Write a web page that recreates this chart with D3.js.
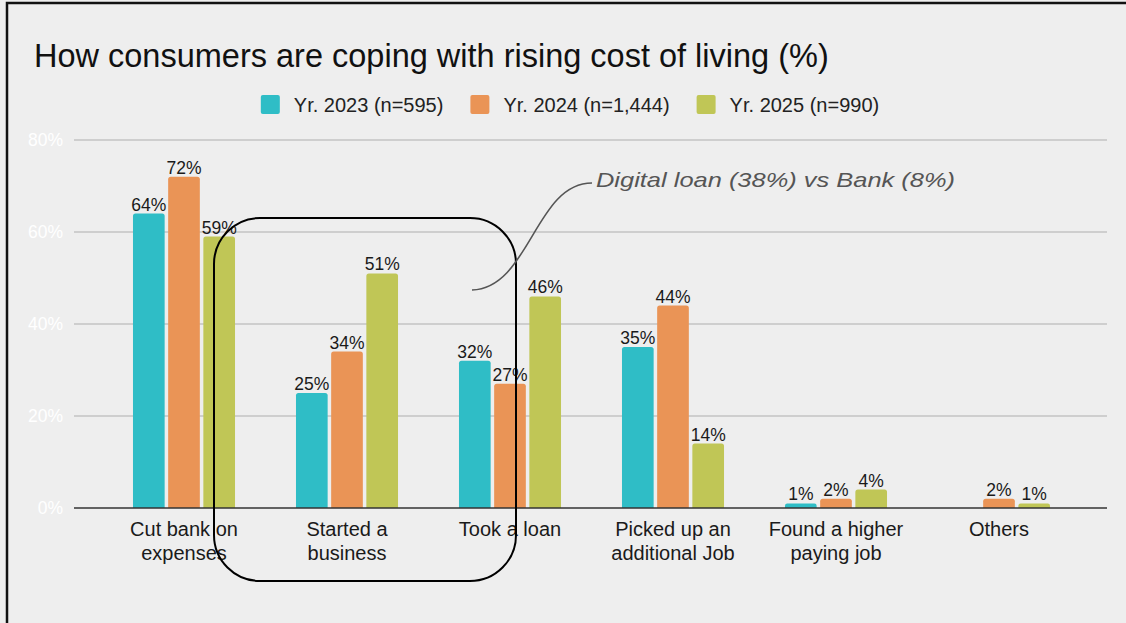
<!DOCTYPE html>
<html>
<head>
<meta charset="utf-8">
<script src="https://cdn.jsdelivr.net/npm/d3@7"></script>
<style>
  html, body { margin: 0; padding: 0; background: #eeeeee; }
  svg { display: block; }
  text { font-family: "Liberation Sans", Arial, sans-serif; }
</style>
</head>
<body>
<svg id="chart" width="1126" height="623"></svg>
<script>
// Survey responses: how consumers cope with the rising cost of living
const categories = [
  ["Cut bank on", "expenses"],
  ["Started a", "business"],
  ["Took a loan"],
  ["Picked up an", "additional Job"],
  ["Found a higher", "paying job"],
  ["Others"]
];
const seriesNames = ["Yr. 2023 (n=595)", "Yr. 2024 (n=1,444)", "Yr. 2025 (n=990)"];
const values2023 = [64, 25, 32, 35, 1, 0];
const values2024 = [72, 34, 27, 44, 2, 2];
const values2025 = [59, 51, 46, 14, 4, 1];
const yTicks = [0, 20, 40, 60, 80];
const colors = ["#2fbdc6", "#ea9456", "#c0c656"];
const annotationText = "Digital loan (38%) vs Bank (8%)";
const titleText = "How consumers are coping with rising cost of living (%)";

const series = [values2023, values2024, values2025];
const catKeys = categories.map(c => c.join(" "));

const svg = d3.select("#chart");
const W = 1126, H = 623;

svg.append("rect").attr("width", W).attr("height", H).attr("fill", "#eeeeee");

// frame (top and left edges visible)
svg.append("rect")
  .attr("x", 7).attr("y", 3)
  .attr("width", W + 20).attr("height", H + 20)
  .attr("fill", "none").attr("stroke", "#111").attr("stroke-width", 2.5);

// title
svg.append("text")
  .attr("x", 34).attr("y", 67)
  .attr("font-size", 32.5)
  .attr("fill", "#111")
  .text(titleText);

// scales
const plotLeft = 74, plotRight = 1107;
const y = d3.scaleLinear().domain([0, 80]).range([508, 140]);
const x0 = d3.scaleBand().domain(catKeys).range([102.5, 1080.5])
  .paddingInner(0.374).paddingOuter(0.187);
const x1 = d3.scaleBand().domain(d3.range(series.length))
  .range([0, x0.bandwidth()]).paddingInner(0.1);

// gridlines
const grid = svg.append("g");
grid.selectAll("line").data(yTicks.filter(t => t > 0)).join("line")
  .attr("x1", plotLeft).attr("x2", plotRight)
  .attr("y1", d => y(d)).attr("y2", d => y(d))
  .attr("stroke", "#c3c3c3").attr("stroke-width", 1.5);

// y axis labels
const yAxis = d3.axisLeft(y).tickValues(yTicks).tickSize(0).tickPadding(0)
  .tickFormat(d => d + "%");
const yg = svg.append("g").attr("transform", `translate(${63},0)`).call(yAxis);
yg.select(".domain").remove();
yg.selectAll("text")
  .attr("font-size", 17.5)
  .attr("font-family", "'Liberation Sans', Arial, sans-serif")
  .attr("fill", "#ffffff");

// bars
const groups = svg.append("g").selectAll("g").data(catKeys).join("g")
  .attr("transform", d => `translate(${x0(d)},0)`);

groups.each(function(cat, ci) {
  const g = d3.select(this);
  const vals = series.map((s, si) => ({ si, v: s[ci] }));
  g.selectAll("path.bar").data(vals.filter(d => d.v > 0)).join("path")
    .attr("class", "bar")
    .attr("fill", d => colors[d.si])
    .attr("d", d => {
      const bx = x1(d.si), bw = x1.bandwidth();
      const top = y(d.v), bot = y(0);
      const r = Math.min(2.5, (bot - top) / 2);
      return `M${bx},${bot} L${bx},${top + r} Q${bx},${top} ${bx + r},${top}` +
        ` L${bx + bw - r},${top} Q${bx + bw},${top} ${bx + bw},${top + r} L${bx + bw},${bot} Z`;
    });
  g.selectAll("text.val").data(vals.filter(d => d.v > 0)).join("text")
    .attr("class", "val")
    .attr("x", d => x1(d.si) + x1.bandwidth() / 2)
    .attr("y", d => y(d.v) - 3)
    .attr("text-anchor", "middle")
    .attr("font-size", 17.5)
    .attr("fill", "#1a1a1a")
    .text(d => d.v + "%");
});

// baseline
svg.append("line")
  .attr("x1", plotLeft).attr("x2", plotRight)
  .attr("y1", y(0)).attr("y2", y(0))
  .attr("stroke", "#333").attr("stroke-width", 1.5);

// category labels
const xl = svg.append("g").selectAll("text").data(categories).join("text")
  .attr("x", (d, i) => x0(catKeys[i]) + x0.bandwidth() / 2)
  .attr("y", 536)
  .attr("text-anchor", "middle")
  .attr("font-size", 20)
  .attr("fill", "#1a1a1a");
xl.selectAll("tspan").data(d => d).join("tspan")
  .attr("x", function() { return d3.select(this.parentNode).attr("x"); })
  .attr("dy", (d, i) => i === 0 ? 0 : 23.5)
  .text(d => d);

// legend
const legend = svg.append("g");
let lx = 0;
seriesNames.forEach((name, i) => {
  const item = legend.append("g").attr("transform", `translate(${lx},0)`);
  item.append("rect").attr("x", 0).attr("y", 95).attr("width", 19).attr("height", 19)
    .attr("rx", 2).attr("fill", colors[i]);
  const t = item.append("text").attr("x", 33).attr("y", 112)
    .attr("font-size", 20).attr("fill", "#222").text(name);
  lx += 33 + t.node().getComputedTextLength() + 27;
});
const legendW = lx - 27;
legend.attr("transform", `translate(${570 - legendW / 2},0)`);

// highlight box around "Started a business" and "Took a loan"
svg.append("rect")
  .attr("x", 214).attr("y", 218)
  .attr("width", 516 - 214).attr("height", 581 - 218)
  .attr("rx", 46).attr("ry", 46)
  .attr("fill", "none").attr("stroke", "#000").attr("stroke-width", 2);

// callout connector and note
svg.append("path")
  .attr("d", "M472,290 C530,288 535,183 592,183")
  .attr("fill", "none").attr("stroke", "#555").attr("stroke-width", 1.6);
svg.append("text")
  .attr("x", 596).attr("y", 187)
  .attr("font-family", "'Open Sans', sans-serif")
  .attr("font-style", "italic")
  .attr("font-size", 21)
  .attr("fill", "#555")
  .attr("textLength", 359)
  .attr("lengthAdjust", "spacingAndGlyphs")
  .text(annotationText);
</script>
</body>
</html>
